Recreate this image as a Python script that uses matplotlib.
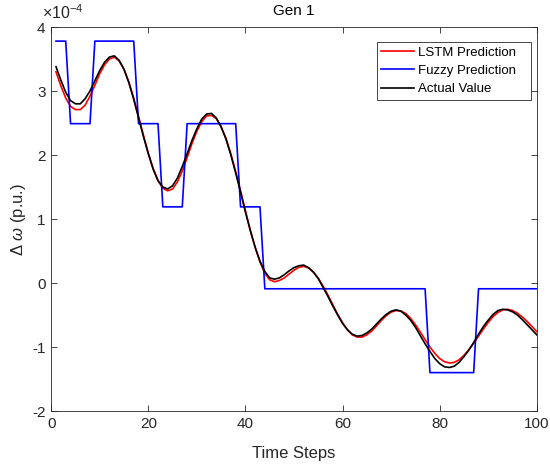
import numpy as np
import matplotlib
matplotlib.use('Agg')
import matplotlib.pyplot as plt
from matplotlib.ticker import FuncFormatter

# valores (unidade 1e-4 p.u.)
passos = np.arange(1, 101)

valor_real = [3.38, 3.17, 2.98, 2.85, 2.80, 2.80, 2.88, 3.00, 3.16, 3.32,
              3.45, 3.53, 3.55, 3.48, 3.34, 3.13, 2.87, 2.58, 2.29, 2.02,
              1.78, 1.60, 1.50, 1.47, 1.52, 1.64, 1.82, 2.02, 2.23, 2.41,
              2.56, 2.64, 2.65, 2.58, 2.44, 2.25, 2.00, 1.72, 1.42, 1.11,
              0.82, 0.56, 0.34, 0.18, 0.08, 0.06, 0.08, 0.13, 0.19, 0.24,
              0.27, 0.28, 0.24, 0.17, 0.07, -0.07, -0.21, -0.36, -0.50, -0.63,
              -0.73, -0.80, -0.83, -0.82, -0.78, -0.72, -0.64, -0.56, -0.49, -0.44,
              -0.42, -0.44, -0.50, -0.58, -0.69, -0.82, -0.95, -1.07, -1.18, -1.26,
              -1.31, -1.32, -1.30, -1.24, -1.15, -1.05, -0.93, -0.80, -0.68, -0.58,
              -0.49, -0.43, -0.41, -0.42, -0.45, -0.50, -0.57, -0.65, -0.73, -0.81]

previsao_lstm = [3.30, 3.08, 2.89, 2.76, 2.71, 2.71, 2.78, 2.92, 3.09, 3.27,
                 3.41, 3.50, 3.53, 3.47, 3.34, 3.14, 2.89, 2.60, 2.31, 2.03,
                 1.79, 1.60, 1.48, 1.44, 1.47, 1.58, 1.75, 1.96, 2.18, 2.37,
                 2.52, 2.61, 2.62, 2.57, 2.44, 2.26, 2.02, 1.74, 1.44, 1.13,
                 0.83, 0.56, 0.33, 0.15, 0.05, 0.02, 0.04, 0.08, 0.14, 0.20,
                 0.245, 0.26, 0.235, 0.17, 0.075, -0.05, -0.19, -0.34, -0.49, -0.62,
                 -0.73, -0.81, -0.845, -0.845, -0.81, -0.75, -0.67, -0.585, -0.51, -0.455,
                 -0.43, -0.435, -0.475, -0.55, -0.65, -0.765, -0.885, -1.00, -1.10, -1.18,
                 -1.23, -1.25, -1.24, -1.20, -1.13, -1.04, -0.94, -0.83, -0.72, -0.615,
                 -0.525, -0.46, -0.42, -0.41, -0.43, -0.47, -0.53, -0.60, -0.68, -0.76]

previsao_fuzzy = [3.78, 3.78, 3.78, 2.49, 2.49, 2.49, 2.49, 2.49, 3.78, 3.78,
                  3.78, 3.78, 3.78, 3.78, 3.78, 3.78, 3.78, 2.49, 2.49, 2.49,
                  2.49, 2.49, 1.19, 1.19, 1.19, 1.19, 1.19, 2.49, 2.49, 2.49,
                  2.49, 2.49, 2.49, 2.49, 2.49, 2.49, 2.49, 2.49, 1.19, 1.19,
                  1.19, 1.19, 1.19, -0.09, -0.09, -0.09, -0.09, -0.09, -0.09, -0.09,
                  -0.09, -0.09, -0.09, -0.09, -0.09, -0.09, -0.09, -0.09, -0.09, -0.09,
                  -0.09, -0.09, -0.09, -0.09, -0.09, -0.09, -0.09, -0.09, -0.09, -0.09,
                  -0.09, -0.09, -0.09, -0.09, -0.09, -0.09, -0.09, -1.40, -1.40, -1.40,
                  -1.40, -1.40, -1.40, -1.40, -1.40, -1.40, -1.40, -0.09, -0.09, -0.09,
                  -0.09, -0.09, -0.09, -0.09, -0.09, -0.09, -0.09, -0.09, -0.09, -0.09]

escala = 1e-4
cor_eixo = '#262626'

plt.rcParams['font.family'] = ['Liberation Sans', 'DejaVu Sans']
plt.rcParams['mathtext.fontset'] = 'custom'
plt.rcParams['mathtext.rm'] = 'Liberation Sans'
plt.rcParams['mathtext.it'] = 'Liberation Sans:italic'
plt.rcParams['axes.unicode_minus'] = False

fig = plt.figure(figsize=(5.5, 4.66), dpi=100)
ax = fig.add_axes([0.093, 0.118, 0.883, 0.824])

ax.plot(passos, np.array(previsao_lstm) * escala, color='r', lw=1.2, label='LSTM Prediction')
ax.plot(passos, np.array(previsao_fuzzy) * escala, color='b', lw=1.2, label='Fuzzy Prediction')
ax.plot(passos, np.array(valor_real) * escala, color='k', lw=1.2, label='Actual Value')

ax.set_xlim(0, 100)
ax.set_ylim(-2e-4, 4e-4)
ax.set_xticks([0, 20, 40, 60, 80, 100])
ax.set_yticks(np.arange(-2, 5) * escala)
ax.yaxis.set_major_formatter(FuncFormatter(lambda v, p: f'{round(v / escala):d}'))
ax.text(-0.018, 1.012, '\u00d710$^{\\mathregular{-4}}$', transform=ax.transAxes,
        fontsize=11.5, color=cor_eixo, ha='left', va='bottom')

ax.tick_params(direction='in', top=True, right=True, labelsize=11,
               colors=cor_eixo, length=4, width=0.6, pad=4)
for s in ax.spines.values():
    s.set_color(cor_eixo)
    s.set_linewidth(0.6)

ax.set_title('Gen 1', fontsize=11, color='k', pad=9)
ax.set_xlabel('Time Steps', fontsize=12, color=cor_eixo, labelpad=11)
ax.set_ylabel(r'$\Delta$ $\omega$ (p.u.)', fontsize=12, color=cor_eixo, labelpad=3)

# legenda no estilo matlab (caixa mais larga que o texto)
leg = ax.legend(loc='upper left', fontsize=9.5, frameon=True, fancybox=False,
                edgecolor=cor_eixo, framealpha=1, handlelength=2.5,
                borderpad=0.35, labelspacing=0.45, handletextpad=0.3,
                borderaxespad=0, mode='expand',
                bbox_to_anchor=(0.670, 0.661, 0.319, 0.30))
leg.get_frame().set_linewidth(0.6)

plt.savefig('out.png', dpi=100)
